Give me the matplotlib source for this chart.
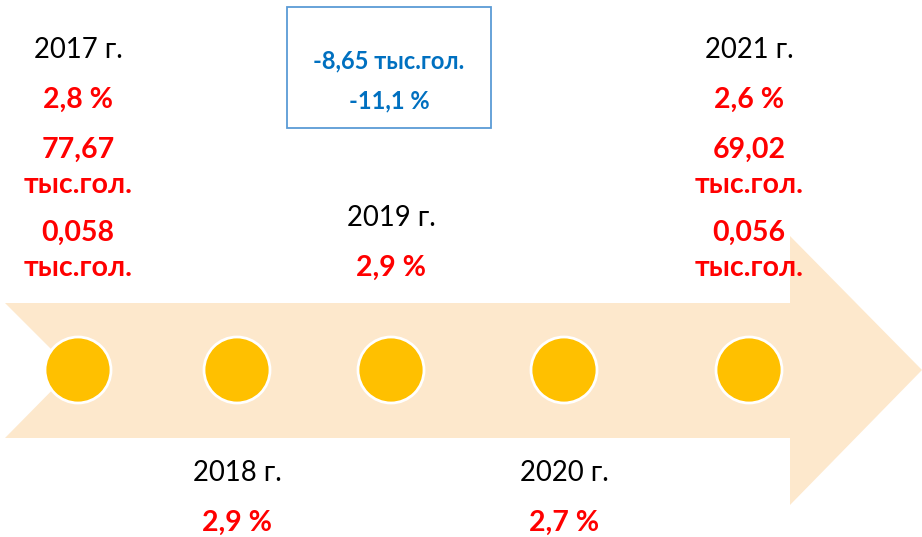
import matplotlib
matplotlib.use("Agg")
import matplotlib.pyplot as plt
from matplotlib.patches import Polygon, Circle, Rectangle

# ---- data ----
years = ["2017 г.", "2018 г.", "2019 г.", "2020 г.", "2021 г."]
shares = ["2,8 %", "2,9 %", "2,9 %", "2,7 %", "2,6 %"]
heads_2017 = ["77,67", "0,058"]
heads_2021 = ["69,02", "0,056"]
unit = "тыс.гол."
change_abs = "-8,65 тыс.гол."
change_pct = "-11,1 %"

# ---- layout ----
W, H = 922, 537
fig = plt.figure(figsize=(W / 100, H / 100), dpi=100)
ax = fig.add_axes([0, 0, 1, 1])
ax.set_xlim(0, W)
ax.set_ylim(H, 0)
ax.axis("off")

FONT = ["Lato", "DejaVu Sans"]
RED = "#FF0000"
BLUE = "#0070C0"

# arrow
arrow = Polygon([(5, 303), (790, 303), (790, 236), (922, 370), (790, 505),
                 (790, 438), (5, 438), (72, 370)],
                closed=True, facecolor="#FDE8CC", edgecolor="none", zorder=1)
ax.add_patch(arrow)

xs = [78, 237, 391, 564, 749]
for x in xs:
    ax.add_patch(Circle((x, 370), 33, facecolor="#FFC000", edgecolor="white",
                        linewidth=2, zorder=2))

def txt(x, y, s, color="black", bold=False, size=19.8):
    ax.text(x, y, s, ha="center", va="center", color=color, fontsize=size,
            fontweight="bold" if bold else "normal", family=FONT, zorder=3)

RS = 20.5
# year labels
year_y = [50, 473, 218, 473, 50]
for x, y, yr, sh in zip(xs, year_y, years, shares):
    txt(x, y, yr)
    txt(x, y + 50, sh, color=RED, bold=True, size=RS)

# extra details for 2017 and 2021
for x, vals in ((xs[0], heads_2017), (xs[4], heads_2021)):
    txt(x, 150, vals[0], color=RED, bold=True, size=RS)
    txt(x, 185, unit, color=RED, bold=True, size=RS)
    txt(x, 233, vals[1], color=RED, bold=True, size=RS)
    txt(x, 268, unit, color=RED, bold=True, size=RS)

# change box
ax.add_patch(Rectangle((287, 7), 204, 121, facecolor="white",
                       edgecolor="#5B9BD5", linewidth=1.3, zorder=2))
txt(389, 61, change_abs, color=BLUE, bold=True, size=17)
txt(389, 101, change_pct, color=BLUE, bold=True, size=17)

fig.savefig("out.png", dpi=100)
